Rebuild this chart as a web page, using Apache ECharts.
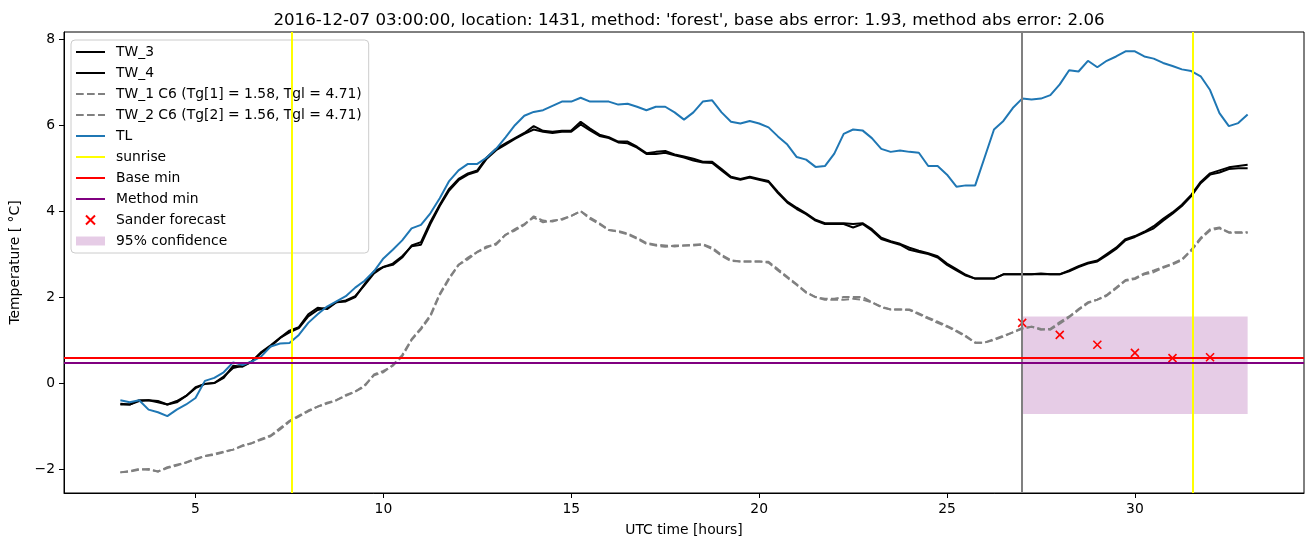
<!DOCTYPE html>
<html>
<head>
<meta charset="utf-8">
<script src="https://cdn.jsdelivr.net/npm/echarts@6/dist/echarts.min.js"></script>
<style>
html,body{margin:0;padding:0;background:#fff;}
#chart{width:1313px;height:547px;}
</style>
</head>
<body>
<div id="chart"></div>
<script>
// ---- data (UTC hours, every 15 minutes from 03:00 to 33:00) ----
const startHour = 3;
const stepHour = 0.25;

const TL = [
 -0.40,-0.45,-0.40,-0.62,-0.68,-0.77,-0.62,-0.50,-0.35,0.05,0.12,0.25,
 0.48,0.42,0.50,0.62,0.85,0.92,0.93,1.12,1.40,1.60,1.78,1.90,
 2.02,2.22,2.38,2.60,2.90,3.10,3.32,3.60,3.68,3.95,4.30,4.70,
 4.95,5.10,5.10,5.25,5.45,5.72,6.00,6.22,6.31,6.35,6.45,6.55,
 6.55,6.64,6.55,6.55,6.55,6.48,6.50,6.43,6.35,6.43,6.43,6.30,
 6.13,6.30,6.55,6.58,6.30,6.08,6.04,6.10,6.04,5.95,5.74,5.55,
 5.26,5.20,5.03,5.05,5.34,5.80,5.90,5.88,5.70,5.45,5.38,5.41,
 5.38,5.36,5.05,5.05,4.85,4.57,4.60,4.60,5.25,5.90,6.10,6.40,
 6.62,6.60,6.62,6.70,6.95,7.28,7.25,7.50,7.35,7.50,7.60,7.72,
 7.72,7.60,7.55,7.45,7.38,7.30,7.26,7.14,6.82,6.28,5.98,6.05,
 6.25
];

const TW_3 = [
 -0.50,-0.50,-0.40,-0.40,-0.42,-0.50,-0.45,-0.30,-0.12,-0.02,0.00,0.12,
 0.40,0.38,0.50,0.72,0.88,1.05,1.22,1.30,1.60,1.75,1.72,1.88,
 1.90,2.00,2.30,2.60,2.70,2.75,2.92,3.20,3.28,3.75,4.15,4.52,
 4.75,4.88,4.95,5.25,5.45,5.58,5.70,5.82,5.98,5.87,5.85,5.87,
 5.88,6.08,5.92,5.78,5.72,5.62,5.62,5.50,5.35,5.38,5.40,5.32,
 5.27,5.22,5.15,5.15,4.98,4.80,4.75,4.80,4.75,4.70,4.45,4.22,
 4.08,3.95,3.80,3.72,3.72,3.72,3.70,3.72,3.58,3.38,3.30,3.24,
 3.15,3.08,3.02,2.95,2.78,2.65,2.52,2.43,2.43,2.43,2.53,2.53,
 2.53,2.53,2.55,2.53,2.53,2.62,2.72,2.80,2.85,3.00,3.15,3.35,
 3.42,3.52,3.65,3.82,3.97,4.15,4.38,4.68,4.88,4.95,5.02,5.05,
 5.08
];

const TW_4 = [
 -0.48,-0.50,-0.42,-0.40,-0.45,-0.50,-0.42,-0.30,-0.10,-0.02,0.00,0.15,
 0.35,0.40,0.50,0.70,0.85,1.05,1.18,1.28,1.55,1.70,1.75,1.88,
 1.92,2.02,2.28,2.55,2.70,2.78,2.95,3.18,3.22,3.70,4.12,4.48,
 4.72,4.85,4.92,5.22,5.42,5.55,5.68,5.80,5.90,5.85,5.82,5.85,
 5.85,6.02,5.88,5.75,5.70,5.60,5.58,5.48,5.33,5.33,5.36,5.30,
 5.25,5.18,5.13,5.12,4.95,4.78,4.73,4.78,4.73,4.68,4.42,4.20,
 4.05,3.93,3.78,3.70,3.70,3.70,3.62,3.70,3.55,3.35,3.28,3.22,
 3.10,3.05,3.00,2.92,2.75,2.62,2.50,2.43,2.43,2.43,2.53,2.53,
 2.53,2.53,2.53,2.53,2.53,2.60,2.70,2.78,2.83,2.97,3.12,3.32,
 3.40,3.50,3.60,3.78,3.94,4.12,4.35,4.65,4.85,4.90,4.98,5.00,
 5.00
];

const TW_1 = [
 -2.08,-2.05,-2.00,-2.02,-2.06,-1.98,-1.92,-1.85,-1.78,-1.70,-1.67,-1.61,
 -1.55,-1.47,-1.40,-1.32,-1.24,-1.08,-0.90,-0.78,-0.66,-0.55,-0.48,-0.40,
 -0.30,-0.20,-0.08,0.20,0.28,0.40,0.62,1.00,1.25,1.55,2.05,2.42,
 2.75,2.92,3.05,3.15,3.25,3.45,3.55,3.68,3.88,3.78,3.76,3.82,
 3.89,4.00,3.85,3.72,3.56,3.54,3.48,3.38,3.26,3.22,3.20,3.18,
 3.20,3.22,3.23,3.15,2.98,2.86,2.83,2.83,2.83,2.82,2.65,2.47,
 2.30,2.12,2.00,1.94,1.94,1.94,1.96,1.94,1.88,1.78,1.71,1.71,
 1.71,1.62,1.52,1.43,1.33,1.22,1.10,0.94,0.94,1.00,1.08,1.18,
 1.28,1.31,1.24,1.26,1.42,1.55,1.72,1.88,1.94,2.05,2.22,2.40,
 2.44,2.55,2.62,2.70,2.78,2.88,3.10,3.38,3.58,3.62,3.51,3.51,
 3.51
];

const TW_2 = [
 -2.08,-2.06,-2.02,-2.00,-2.06,-1.96,-1.90,-1.85,-1.76,-1.70,-1.65,-1.60,
 -1.55,-1.45,-1.40,-1.30,-1.22,-1.05,-0.88,-0.76,-0.64,-0.55,-0.46,-0.40,
 -0.28,-0.20,-0.05,0.18,0.25,0.42,0.65,1.02,1.28,1.58,2.08,2.45,
 2.75,2.88,3.05,3.18,3.22,3.45,3.58,3.70,3.85,3.74,3.78,3.80,
 3.89,4.00,3.82,3.70,3.56,3.52,3.46,3.36,3.24,3.20,3.17,3.20,
 3.20,3.20,3.22,3.12,2.96,2.84,2.83,2.83,2.83,2.80,2.62,2.45,
 2.28,2.10,2.00,1.96,1.96,2.00,2.00,2.00,1.88,1.76,1.71,1.71,
 1.70,1.60,1.50,1.40,1.31,1.20,1.08,0.94,0.94,1.02,1.10,1.18,
 1.26,1.31,1.26,1.24,1.38,1.53,1.70,1.86,1.94,2.03,2.20,2.38,
 2.42,2.53,2.58,2.68,2.76,2.86,3.08,3.35,3.55,3.60,3.50,3.50,
 3.50
];

const sanderHours = [27, 28, 29, 30, 31, 32];
const sanderForecast = [1.40, 1.12, 0.89, 0.70, 0.58, 0.60];

const sunriseHours = [7.55, 31.55];
const forecastStartHour = 27;
const baseMin = 0.59;
const methodMin = 0.46;
const confidence = { fromHour: 27, toHour: 33, low: -0.72, high: 1.55 };

const xTicks = [5, 10, 15, 20, 25, 30];
const yTicks = [-2, 0, 2, 4, 6, 8];
const xRange = [1.5, 34.5];
const yRange = [-2.56, 8.17];

const titleText = "2016-12-07 03:00:00, location: 1431, method: 'forest', base abs error: 1.93, method abs error: 2.06";
const names = {
  tw3: 'TW_3', tw4: 'TW_4',
  tw1: 'TW_1 C6 (Tg[1] = 1.58, Tgl = 4.71)',
  tw2: 'TW_2 C6 (Tg[2] = 1.56, Tgl = 4.71)',
  tl: 'TL', sunrise: 'sunrise', base: 'Base min', method: 'Method min',
  sander: 'Sander forecast', conf: '95% confidence'
};

// ---- build ----
const hours = TL.map((_, i) => startHour + i * stepHour);
const pairs = arr => arr.map((v, i) => [hours[i], v]);

const FONT = 'DejaVu Sans';
const dash = [7.7, 3.3];

function lineSeries(name, data, color, dashed) {
  return {
    name, type: 'line', data: pairs(data), symbol: 'none', showSymbol: false,
    color, lineStyle: { color, width: 2, type: dashed ? dash : 'solid' },
    itemStyle: { color }, emphasis: { disabled: true }, silent: true, z: 2
  };
}

const lineOnly = { opacity: 0 };

const chart = echarts.init(document.getElementById('chart'), null, { renderer: 'canvas' });

const option = {
  animation: false,
  backgroundColor: '#fff',
  textStyle: { fontFamily: FONT },
  title: {
    text: titleText, left: 684, top: 7, textAlign: 'center',
    textStyle: { fontFamily: FONT, fontSize: 16.67, fontWeight: 'normal', color: '#000' }
  },
  grid: { left: 64, right: 9, top: 32, bottom: 54, show: true, borderColor: '#000', borderWidth: 1, backgroundColor: 'transparent' },
  legend: {
    orient: 'vertical', left: 71, top: 40,
    padding: [4, 7, 4, 4],
    itemWidth: 29, itemHeight: 9, itemGap: 5,
    backgroundColor: 'rgba(255,255,255,0.8)', borderColor: '#cccccc', borderWidth: 1, borderRadius: 4,
    textStyle: { fontFamily: FONT, fontSize: 13.89, color: '#000', lineHeight: 16, padding: [0, 0, 0, 6] },
    selectedMode: false,
    data: [
      { name: names.tw3, itemStyle: lineOnly }, { name: names.tw4, itemStyle: lineOnly },
      { name: names.tw1, itemStyle: lineOnly }, { name: names.tw2, itemStyle: lineOnly },
      { name: names.tl, itemStyle: lineOnly }, { name: names.sunrise, itemStyle: lineOnly },
      { name: names.base, itemStyle: lineOnly }, { name: names.method, itemStyle: lineOnly },
      { name: names.sander }, { name: names.conf, icon: 'rect' }
    ]
  },
  xAxis: {
    type: 'value', min: xRange[0], max: xRange[1],
    name: 'UTC time [hours]', nameLocation: 'middle', nameGap: 30,
    nameTextStyle: { fontFamily: FONT, fontSize: 13.89, color: '#000' },
    axisLine: { show: true, onZero: false, lineStyle: { color: '#000', width: 1 } },
    axisTick: { show: true, inside: false, length: 5, lineStyle: { color: '#000', width: 1 }, customValues: xTicks },
    axisLabel: { show: true, margin: 9, fontFamily: FONT, fontSize: 13.89, color: '#000', customValues: xTicks },
    splitLine: { show: false }
  },
  yAxis: {
    type: 'value', min: yRange[0], max: yRange[1],
    name: 'Temperature [ °C]', nameLocation: 'middle', nameGap: 42, nameRotate: 90,
    nameTextStyle: { fontFamily: FONT, fontSize: 13.89, color: '#000' },
    axisLine: { show: true, onZero: false, lineStyle: { color: '#000', width: 1 } },
    axisTick: { show: true, inside: false, length: 5, lineStyle: { color: '#000', width: 1 }, customValues: yTicks },
    axisLabel: { show: true, margin: 9, fontFamily: FONT, fontSize: 13.89, color: '#000', customValues: yTicks,
      formatter: v => String(v).replace('-', '\u2212') },
    splitLine: { show: false }
  },
  series: [
    {
      name: names.conf, type: 'line', data: [], symbol: 'none',
      color: 'rgba(128,0,128,0.2)', itemStyle: { color: 'rgba(128,0,128,0.2)' },
      lineStyle: { color: 'rgba(128,0,128,0.2)' }, silent: true, z: 1,
      markArea: {
        silent: true,
        itemStyle: { color: 'rgba(128,0,128,0.2)' },
        label: { show: false },
        data: [[{ coord: [confidence.fromHour, confidence.high] }, { coord: [confidence.toHour, confidence.low] }]]
      }
    },
    lineSeries(names.tw3, TW_3, '#000000', false),
    lineSeries(names.tw4, TW_4, '#000000', false),
    lineSeries(names.tw1, TW_1, '#808080', true),
    lineSeries(names.tw2, TW_2, '#808080', true),
    lineSeries(names.tl, TL, '#1f77b4', false),
    {
      name: 'forecast start', type: 'line', data: [], symbol: 'none', silent: true, z: 3,
      color: '#808080',
      markLine: { silent: true, symbol: 'none', label: { show: false },
        lineStyle: { color: '#808080', width: 2, type: 'solid' },
        data: [{ xAxis: forecastStartHour }] }
    },
    {
      name: names.sunrise, type: 'line', data: [], symbol: 'none', silent: true, z: 3,
      color: '#ffff00', lineStyle: { color: '#ffff00', width: 2 }, itemStyle: { color: '#ffff00' },
      markLine: { silent: true, symbol: 'none', label: { show: false },
        lineStyle: { color: '#ffff00', width: 2, type: 'solid' },
        data: sunriseHours.map(h => ({ xAxis: h })) }
    },
    {
      name: names.base, type: 'line', data: [], symbol: 'none', silent: true, z: 3,
      color: '#ff0000', lineStyle: { color: '#ff0000', width: 2 }, itemStyle: { color: '#ff0000' },
      markLine: { silent: true, symbol: 'none', label: { show: false },
        lineStyle: { color: '#ff0000', width: 2, type: 'solid' },
        data: [{ yAxis: baseMin }] }
    },
    {
      name: names.method, type: 'line', data: [], symbol: 'none', silent: true, z: 3,
      color: '#800080', lineStyle: { color: '#800080', width: 2 }, itemStyle: { color: '#800080' },
      markLine: { silent: true, symbol: 'none', label: { show: false },
        lineStyle: { color: '#800080', width: 2, type: 'solid' },
        data: [{ yAxis: methodMin }] }
    },
    {
      name: names.sander, type: 'scatter', z: 4, silent: true,
      data: sanderHours.map((h, i) => [h, sanderForecast[i]]),
      symbol: 'path://M0,0L10,10M10,0L0,10', symbolSize: 8,
      color: '#ff0000',
      itemStyle: { color: '#ff0000', borderColor: '#ff0000', borderWidth: 1.6, opacity: 1 }
    }
  ]
};

chart.setOption(option);
</script>
</body>
</html>
